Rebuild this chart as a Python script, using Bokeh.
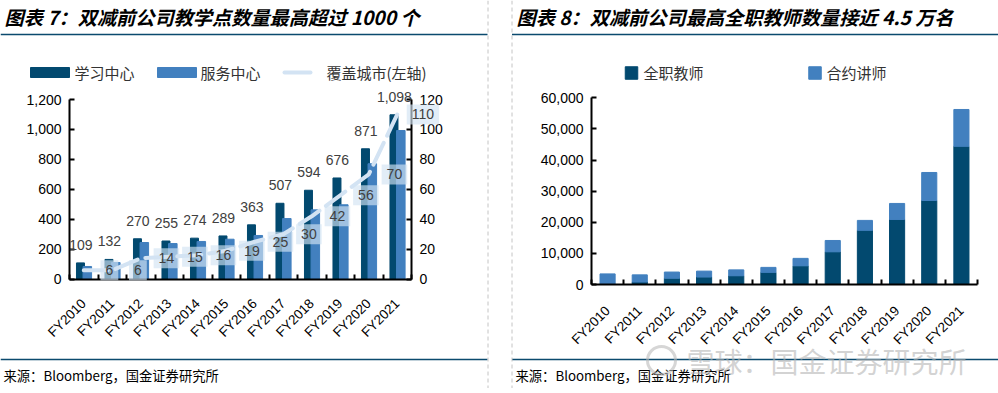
import numpy as np
from bokeh.plotting import figure
from bokeh.models import (Range1d, LinearAxis, FixedTicker, NumeralTickFormatter,
                          LabelSet, Label, ColumnDataSource)
from bokeh.embed import file_html
from bokeh.resources import INLINE
from bokeh.core.properties import value

# ---------------- data ----------------
years = ["FY2010", "FY2011", "FY2012", "FY2013", "FY2014", "FY2015",
         "FY2016", "FY2017", "FY2018", "FY2019", "FY2020", "FY2021"]
learning_centers = [109, 132, 270, 255, 274, 289, 363, 507, 594, 676, 871, 1098]
service_centers = [85, 111, 245, 238, 252, 267, 292, 405, 463, 497, 771, 993]
cities = [6, 6, 14, 15, 16, 19, 25, 30, 42, 56, 70, 110]
fulltime_teachers = [0, 800, 2000, 2400, 2800, 3900, 6000, 10500, 17400, 20900, 27000, 44400]
contract_lecturers = [3400, 2300, 2000, 1900, 1900, 1600, 2400, 3650, 3200, 5150, 9000, 11850]

left_ticks = [0, 200, 400, 600, 800, 1000, 1200]
right_ticks = [0, 20, 40, 60, 80, 100, 120]
teacher_ticks = [0, 10000, 20000, 30000, 40000, 50000, 60000]

title_left = "图表 7：双减前公司教学点数量最高超过 1000 个"
title_right = "图表 8：双减前公司最高全职教师数量接近 4.5 万名"
legend_left = ["学习中心", "服务中心", "覆盖城市(左轴)"]
legend_right = ["全职教师", "合约讲师"]
source_text = "来源：Bloomberg，国金证券研究所"
watermark = "雪球：国金证券研究所"

# ---------------- style ----------------
DARK = "#02496F"
BLUE = "#4280BF"
LINE = "#D3E3F3"
RULE = "#0B4A6E"
TXT = "#404040"
CJK = value("Noto Sans CJK SC")
LAT = "Liberation Sans"

W, H = 998, 388
n = len(years)
xs = np.arange(n)


def xmap(v0, v1, p0, p1):
    s = (p1 - p0) / (v1 - v0)
    start = v0 - p0 / s
    return Range1d(start, start + W / s)


def ymap(v0, v1, p0, p1):
    s = (p0 - p1) / (v1 - v0)
    return Range1d(v0 - (H - p0) / s, v0 + p0 / s)


p = figure(width=W, height=H, x_range=Range1d(0, W), y_range=Range1d(H, 0),
           output_backend="svg", toolbar_location=None, min_border=0,
           x_axis_location=None, y_axis_location=None)
p.grid.visible = False
p.outline_line_color = None
p.extra_x_ranges = {"lx": xmap(-0.5, n - 0.5, 69, 411),
                    "rx": xmap(-0.5, n - 0.5, 591, 977)}
p.extra_y_ranges = {"ly": ymap(0, 1200, 278.7, 99),
                    "lr": ymap(0, 120, 278.7, 99),
                    "ry": ymap(0, 60000, 284, 97.3)}


def yaxis(xr, yr, loc, ticks, side, fmt=False):
    ax = LinearAxis(x_range_name=xr, y_range_name=yr, fixed_location=loc,
                    bounds=(ticks[0], ticks[-1]), ticker=FixedTicker(ticks=ticks))
    if fmt:
        ax.formatter = NumeralTickFormatter(format="0,0")
    ax.axis_line_color = "black"
    ax.axis_line_width = 2
    ax.major_tick_line_color = "black"
    ax.major_tick_line_width = 2
    ax.major_tick_in = 5
    ax.major_tick_out = 0
    ax.minor_tick_line_color = None
    ax.major_label_text_font = LAT
    ax.major_label_text_font_size = "14px"
    ax.major_label_text_color = "black"
    ax.major_label_standoff = 8
    p.add_layout(ax, side)


def xaxis(xr, yr, standoff):
    ax = LinearAxis(x_range_name=xr, y_range_name=yr, fixed_location=0,
                    bounds=(-0.5, n - 0.5),
                    ticker=FixedTicker(ticks=list(range(n)),
                                       minor_ticks=[i - 0.5 for i in range(n + 1)]))
    ax.major_label_overrides = {i: years[i] for i in range(n)}
    ax.axis_line_color = "black"
    ax.axis_line_width = 2
    ax.major_tick_line_color = None
    ax.minor_tick_line_color = "black"
    ax.minor_tick_line_width = 2
    ax.minor_tick_in = 5
    ax.minor_tick_out = 0
    ax.major_label_orientation = np.pi / 4
    ax.major_label_text_font = LAT
    ax.major_label_text_font_size = "13.5px"
    ax.major_label_text_color = "black"
    ax.major_label_standoff = standoff
    p.add_layout(ax, "below")


# ---------------- left chart ----------------
src1 = ColumnDataSource(dict(
    x=xs, xd=xs - 0.115, xb=xs + 0.125, xl=xs - 0.1,
    learning=learning_centers, service=service_centers, cities=cities,
    lab_learning=[f"{v:,}" for v in learning_centers]))

p.vbar(x="xd", top="learning", width=0.28, source=src1, color=DARK,
       x_range_name="lx", y_range_name="ly")
p.vbar(x="xb", top="service", width=0.30, source=src1, color=BLUE,
       x_range_name="lx", y_range_name="ly")
p.line(x="x", y="cities", source=src1, x_range_name="lx", y_range_name="lr",
       line_color=LINE, line_width=4, line_dash="24 8", line_cap="round")

yaxis("lx", "ly", -0.5, left_ticks, "left", fmt=True)
yaxis("lx", "lr", n - 0.5, right_ticks, "right")
xaxis("lx", "ly", 16)

p.add_layout(LabelSet(x="xl", y="learning", text="lab_learning", source=src1,
                      x_range_name="lx", y_range_name="ly",
                      text_align="center", text_baseline="middle", y_offset=18,
                      text_font=value(LAT), text_font_size="14px", text_color=TXT))
for i, v in enumerate(cities):
    p.add_layout(Label(x=xs[i] + 0.9, y=v, text=str(v),
                       x_range_name="lx", y_range_name="lr",
                       text_align="center", text_baseline="middle",
                       text_font=LAT, text_font_size="14px", text_color=TXT,
                       background_fill_color="#D2E3F3", background_fill_alpha=0.65,
                       padding=5))

# ---------------- right chart ----------------
src2 = ColumnDataSource(dict(x=xs, fulltime=fulltime_teachers, contract=contract_lecturers))
p.vbar_stack(["fulltime", "contract"], x="x", width=0.47, source=src2, color=[DARK, BLUE],
             x_range_name="rx", y_range_name="ry")
yaxis("rx", "ry", -0.5, teacher_ticks, "left", fmt=True)
xaxis("rx", "ry", 18)

# ---------------- titles, rules, legends ----------------
p.text(x=[4, 516], y=[16, 16], text=[title_left, title_right], text_font=CJK,
       text_font_size="19.2px", text_font_style="bold italic", text_baseline="middle",
       text_color="black")
p.segment(x0=[0, 511.5], y0=[34, 34], x1=[487, W], y1=[34, 34], line_color=RULE, line_width=1.6)
p.segment(x0=[0, 511.5], y0=[359, 359], x1=[487, W], y1=[359, 359], line_color=RULE, line_width=1.6)
p.segment(x0=[487.5, 511.5], y0=[0, 0], x1=[487.5, 511.5], y1=[H, H],
          line_color="#C4C4C4", line_width=1, line_dash="4 3")

p.rect(x=[49.5, 176.5], y=[72, 72], width=39, height=10, color=[DARK, BLUE])
p.segment(x0=[284], y0=[72], x1=[310], y1=[72], line_color=LINE, line_width=4, line_cap="round")
p.text(x=[74, 200, 326], y=[72, 72, 72], text=legend_left, text_font=CJK,
       text_font_size="15px", text_baseline="middle", text_color="#333333")

p.rect(x=[631, 814.5], y=[72.5, 72.5], width=12.5, height=12.5, color=[DARK, BLUE])
p.text(x=[643, 826], y=[72, 72], text=legend_right, text_font=CJK,
       text_font_size="15px", text_baseline="middle", text_color="#333333")

# ---------------- sources & watermark ----------------
p.text(x=[3, 515], y=[375, 375], text=[source_text, source_text], text_font=CJK,
       text_font_size="13.3px", text_baseline="middle", text_color="black")
p.circle(x=[661], y=[360], radius=14, fill_color=None, line_color="#BBBBBB",
         line_width=3, line_alpha=0.6)
p.text(x=[686], y=[360], text=[watermark], text_font=CJK, text_font_size="28px",
       text_baseline="middle", text_color="#B5B5B5", text_alpha=0.6)

open("out.html", "w").write(file_html(p, INLINE))
